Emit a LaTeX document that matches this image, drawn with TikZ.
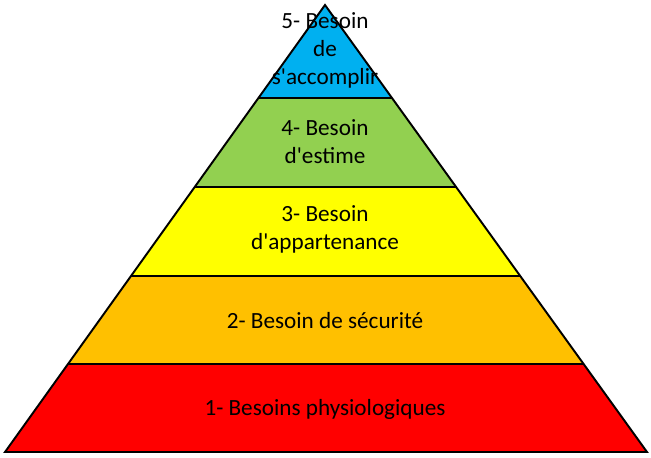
\documentclass[tikz,border=0pt]{standalone}
\usepackage{fontspec}
\setmainfont{Carlito}
\usetikzlibrary{calc}
\definecolor{lv5}{RGB}{0,176,240}
\definecolor{lv4}{RGB}{146,208,80}
\definecolor{lv3}{RGB}{255,255,0}
\definecolor{lv2}{RGB}{255,192,0}
\definecolor{lv1}{RGB}{255,0,0}
\tikzset{layer/.style={draw=black,line width=1.1pt,line join=miter},
lab/.style={align=center,font=\fontsize{13.2pt}{16pt}\selectfont,text=black}}
\begin{document}
\begin{tikzpicture}[x=0.02cm,y=-0.02cm]
\useasboundingbox (0,0) rectangle (651,457);
\coordinate (A) at (325,5);
\coordinate (BL) at (5,452);
\coordinate (BR) at (647,452);
\foreach \n/\t in {1/0.208,2/0.407,3/0.606,4/0.803}{
 \coordinate (L\n) at ($(A)!\t!(BL)$);
 \coordinate (R\n) at ($(A)!\t!(BR)$);}
\fill[lv5] (A) -- (L1) -- (R1) -- cycle;
\fill[lv4] (L1) -- (L2) -- (R2) -- (R1) -- cycle;
\fill[lv3] (L2) -- (L3) -- (R3) -- (R2) -- cycle;
\fill[lv2] (L3) -- (L4) -- (R4) -- (R3) -- cycle;
\fill[lv1] (L4) -- (BL) -- (BR) -- (R4) -- cycle;
\draw[layer] (L1) -- (R1) (L2) -- (R2) (L3) -- (R3) (L4) -- (R4);
\draw[layer] (A) -- (BL) -- (BR) -- cycle;
\node[lab] (t5) at (325,50) {5- Besoin\\de\\s\textquotesingle accomplir};
\node[lab] (t4) at (325,142) {4- Besoin\\d\textquotesingle estime};
\node[lab] (t3) at (325,229) {3- Besoin\\d\textquotesingle appartenance};
\node[lab] (t2) at (325,321) {2- Besoin de sécurité};
\node[lab] (t1) at (325,409) {1- Besoins physiologiques};
\end{tikzpicture}
\end{document}
